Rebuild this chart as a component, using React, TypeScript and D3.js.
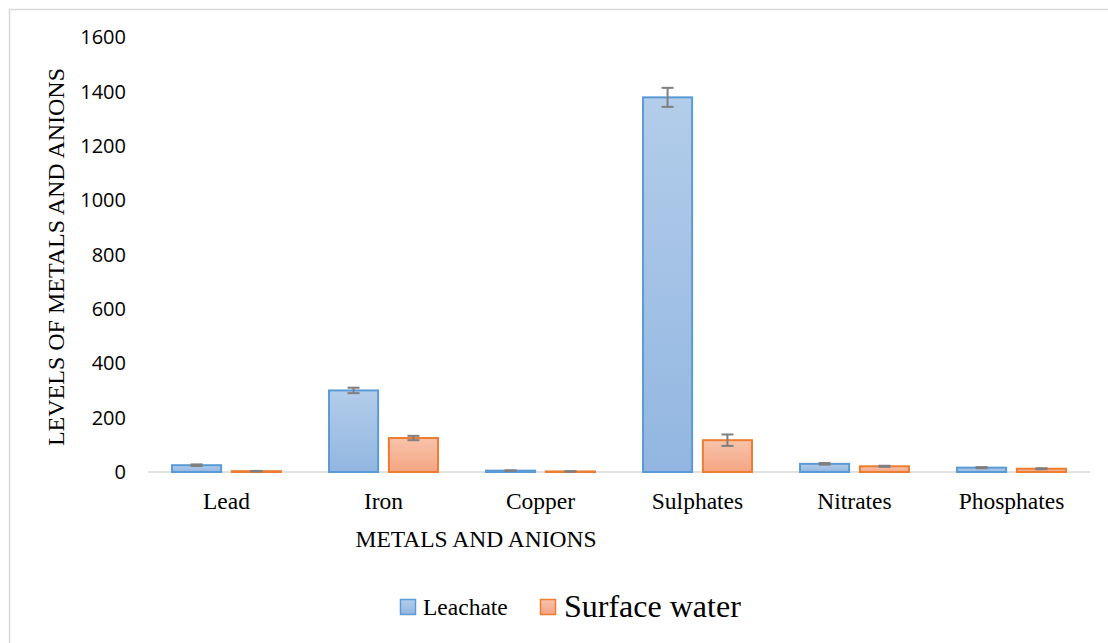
import React from "react";
import * as d3 from "d3";

const categories = ["Lead", "Iron", "Copper", "Sulphates", "Nitrates", "Phosphates"];
const seriesNames = ["Leachate", "Surface water"];
const leachate = [25, 300, 5, 1378, 30, 16];
const leachateErr = [3, 10, 1, 35, 3, 2];
const surface = [3, 125, 2, 117, 21, 12];
const surfaceErr = [1, 8, 1, 21, 2, 2];
const yTicks = [0, 200, 400, 600, 800, 1000, 1200, 1400, 1600];

export default function App() {
  const W = 1108, H = 643;
  const left = 148, right = 1090, top = 37, bottom = 472;
  const x = d3.scaleBand<string>().domain(categories).range([left, right]).paddingInner(0.306).paddingOuter(0.153);
  const inner = d3.scaleBand<string>().domain(seriesNames).range([0, x.bandwidth()]).paddingInner(0.18);
  const y = d3.scaleLinear().domain([0, 1600]).range([bottom, top]);
  const series = [
    { name: seriesNames[0], vals: leachate, errs: leachateErr, grad: "gBlue", stroke: "#5b9bd5" },
    { name: seriesNames[1], vals: surface, errs: surfaceErr, grad: "gOrange", stroke: "#ed7d31" },
  ];
  const serif = "'Liberation Serif', 'Times New Roman', serif";
  const sans = "'Open Sans', 'Liberation Sans', sans-serif";
  return (
    <svg width={W} height={H} style={{ position: "absolute", left: 0, top: 0, display: "block" }}>
      <defs>
        <linearGradient id="gBlue" x1="0" y1="0" x2="0" y2="1">
          <stop offset="0" stopColor="#b3cdea" />
          <stop offset="1" stopColor="#92b6e1" />
        </linearGradient>
        <linearGradient id="gOrange" x1="0" y1="0" x2="0" y2="1">
          <stop offset="0" stopColor="#f8c3ab" />
          <stop offset="1" stopColor="#f4a582" />
        </linearGradient>
      </defs>
      <rect x={0} y={0} width={W} height={H} fill="#fff" />
      <rect x={9.5} y={9.5} width={W + 20} height={H + 20} fill="none" stroke="#d9d9d9" strokeWidth={1.5} />
      {yTicks.map((t) => (
        <text key={t} x={126} y={y(t)} dy="0.36em" textAnchor="end" fontFamily={sans} fontSize={20} fill="#000">
          {t}
        </text>
      ))}
      <line x1={left} x2={right} y1={bottom} y2={bottom} stroke="#d9d9d9" strokeWidth={1.5} />
      {series.map((s) =>
        categories.map((c, i) => {
          const bx = (x(c) as number) + (inner(s.name) as number);
          const bw = inner.bandwidth();
          const v = s.vals[i];
          const e = s.errs[i];
          const cx = bx + bw / 2;
          return (
            <g key={s.name + c}>
              <rect x={bx} y={y(v)} width={bw} height={bottom - y(v)} fill={`url(#${s.grad})`} stroke={s.stroke} strokeWidth={2} />
              <line x1={cx} x2={cx} y1={y(v + e)} y2={y(Math.max(0, v - e))} stroke="#7f7f7f" strokeWidth={2} />
              <line x1={cx - 6} x2={cx + 6} y1={y(v + e)} y2={y(v + e)} stroke="#7f7f7f" strokeWidth={2} />
              <line x1={cx - 6} x2={cx + 6} y1={y(Math.max(0, v - e))} y2={y(Math.max(0, v - e))} stroke="#7f7f7f" strokeWidth={2} />
            </g>
          );
        })
      )}
      {categories.map((c) => (
        <text key={c} x={(x(c) as number) + x.bandwidth() / 2} y={509} textAnchor="middle" fontFamily={serif} fontSize={23.5} fill="#000">
          {c}
        </text>
      ))}
      <text x={476} y={547} textAnchor="middle" fontFamily={serif} fontSize={23.5} fill="#000">
        METALS AND ANIONS
      </text>
      <text transform={`translate(64,257) rotate(-90)`} textAnchor="middle" fontFamily={serif} fontSize={24} fill="#000">
        LEVELS OF METALS AND ANIONS
      </text>
      <rect x={400.5} y={599.5} width={15} height={15} fill="url(#gBlue)" stroke="#5b9bd5" strokeWidth={1.5} />
      <text x={423} y={615} fontFamily={serif} fontSize={23.5} fill="#000">Leachate</text>
      <rect x={540.5} y={599.5} width={15} height={15} fill="url(#gOrange)" stroke="#ed7d31" strokeWidth={1.5} />
      <text x={564} y={617} fontFamily={serif} fontSize={32} fill="#000">Surface water</text>
    </svg>
  );
}
